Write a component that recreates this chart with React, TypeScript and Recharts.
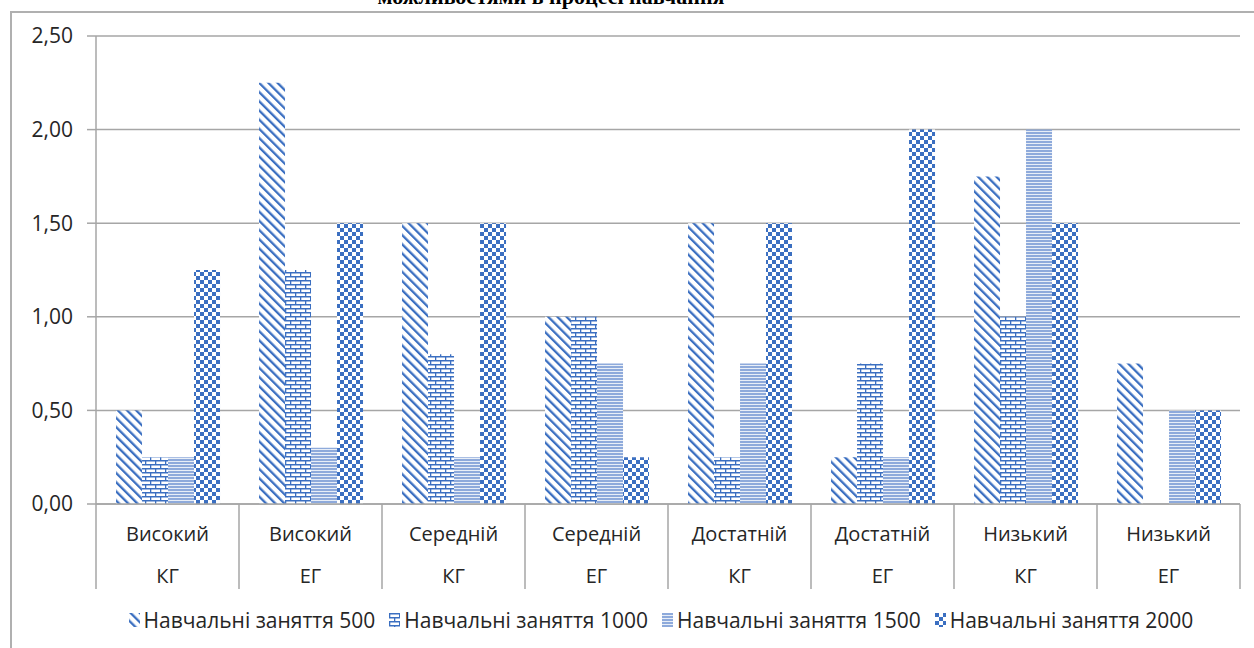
import { BarChart, Bar, XAxis, YAxis, CartesianGrid } from 'recharts';

const levels = ['Високий', 'Високий', 'Середній', 'Середній', 'Достатній', 'Достатній', 'Низький', 'Низький'];
const groups = ['КГ', 'ЕГ', 'КГ', 'ЕГ', 'КГ', 'ЕГ', 'КГ', 'ЕГ'];

const lessons500 = [0.5, 2.25, 1.5, 1.0, 1.5, 0.25, 1.75, 0.75];
const lessons1000 = [0.25, 1.25, 0.8, 1.0, 0.25, 0.75, 1.0, 0];
const lessons1500 = [0.25, 0.3, 0.25, 0.75, 0.75, 0.25, 2.0, 0.5];
const lessons2000 = [1.25, 1.5, 1.5, 0.25, 1.5, 2.0, 1.5, 0.5];

const seriesNames = [
  'Навчальні заняття 500',
  'Навчальні заняття 1000',
  'Навчальні заняття 1500',
  'Навчальні заняття 2000',
];
const yTicks = [0, 0.5, 1, 1.5, 2, 2.5];

const data = levels.map((level, i) => ({
  cat: `${level}|${groups[i]}`,
  s500: lessons500[i],
  s1000: lessons1000[i],
  s1500: lessons1500[i],
  s2000: lessons2000[i],
}));

const BLUE = '#3b6fc1';
const LIGHT = '#8eaadb';
const GRID = '#a6a6a6';
const TEXT = '#262626';
const FONT = '"Open Sans", sans-serif';

const series = [
  { key: 's500', fill: 'url(#pDiag)' },
  { key: 's1000', fill: 'url(#pBrick)' },
  { key: 's1500', fill: 'url(#pHoriz)' },
  { key: 's2000', fill: 'url(#pCheck)' },
];

function Patterns({ suffix = '' }: { suffix?: string }) {
  return (
    <defs>
      <pattern id={`pDiag${suffix}`} width="6.5" height="6.5" patternUnits="userSpaceOnUse" patternTransform="rotate(-45)">
        <rect width="6.5" height="6.5" fill="#fff" />
        <rect width="2.3" height="6.5" fill={BLUE} />
      </pattern>
      <pattern id={`pBrick${suffix}`} width="10" height="8" patternUnits="userSpaceOnUse">
        <rect width="10" height="8" fill="#fff" />
        <rect x="0" y="0" width="10" height="1.5" fill={BLUE} />
        <rect x="0" y="4" width="10" height="1.5" fill={BLUE} />
        <rect x="0" y="0" width="1.3" height="4" fill={BLUE} />
        <rect x="5" y="4" width="1.3" height="4" fill={BLUE} />
      </pattern>
      <pattern id={`pHoriz${suffix}`} width="4" height="3" patternUnits="userSpaceOnUse">
        <rect width="4" height="3" fill="#fff" />
        <rect width="4" height="2.2" fill={LIGHT} />
      </pattern>
      <pattern id={`pCheck${suffix}`} width="8" height="8" patternUnits="userSpaceOnUse">
        <rect width="8" height="8" fill="#fff" />
        <rect x="0" y="0" width="4" height="4" fill={BLUE} />
        <rect x="4" y="4" width="4" height="4" fill={BLUE} />
      </pattern>
    </defs>
  );
}

function CategoryTick(props: any) {
  const { x, y, payload, index } = props;
  const half = payload && typeof payload.offset === 'number' ? payload.offset : 71.5;
  const [level, group] = String(payload.value).split('|');
  return (
    <g>
      <line x1={x - half} y1={y} x2={x - half} y2={y + 85} stroke={GRID} strokeWidth={1.5} />
      {index === levels.length - 1 && (
        <line x1={x + half} y1={y} x2={x + half} y2={y + 85} stroke={GRID} strokeWidth={1.5} />
      )}
      <text x={x} y={y + 37} textAnchor="middle" fontSize={20} fontFamily={FONT} fill={TEXT}>
        {level}
      </text>
      <text x={x} y={y + 79} textAnchor="middle" fontSize={20} fontFamily={FONT} fill={TEXT}>
        {group}
      </text>
    </g>
  );
}

export default function App() {
  return (
    <div style={{ position: 'absolute', left: 0, top: 0, width: 1254, height: 648, overflow: 'hidden', background: '#fff' }}>
      <div
        style={{
          position: 'absolute',
          left: 0,
          width: 1102,
          top: -16,
          textAlign: 'center',
          fontFamily: '"Liberation Serif", serif',
          fontWeight: 'bold',
          fontSize: 22,
          lineHeight: '26px',
          color: '#000',
        }}
      >
        можливостями в процесі навчання
      </div>
      <div
        style={{
          position: 'absolute',
          left: 10,
          top: 11,
          width: 1260,
          height: 660,
          border: '2px solid #b0b0b0',
          boxSizing: 'border-box',
        }}
      />
      <div style={{ position: 'absolute', left: 0, top: 0 }}>
        <BarChart
          width={1254}
          height={648}
          data={data}
          margin={{ top: 36, right: 14, bottom: 54, left: 10 }}
          barCategoryGap="14%"
          barGap={0}
        >
          <Patterns />
          <CartesianGrid vertical={false} stroke={GRID} strokeWidth={1.5} />
          <XAxis
            dataKey="cat"
            interval={0}
            height={90}
            tickLine={false}
            tickSize={0}
            tickMargin={0}
            axisLine={{ stroke: GRID, strokeWidth: 1.5 }}
            tick={<CategoryTick />}
          />
          <YAxis
            domain={[0, 2.5]}
            ticks={yTicks}
            width={86}
            tickSize={9}
            tickMargin={14}
            tickLine={{ stroke: GRID, strokeWidth: 1.5 }}
            axisLine={{ stroke: GRID, strokeWidth: 1.5 }}
            tick={{ fontSize: 21, fontFamily: FONT, fill: TEXT }}
            tickFormatter={(v: number) => v.toFixed(2).replace('.', ',')}
          />
          {series.map((s, i) => (
            <Bar key={s.key} dataKey={s.key} name={seriesNames[i]} fill={s.fill} isAnimationActive={false} />
          ))}
        </BarChart>
      </div>
      <div
        style={{
          position: 'absolute',
          left: 68,
          width: 1186,
          top: 606,
          display: 'flex',
          justifyContent: 'center',
          alignItems: 'center',
          fontFamily: FONT,
          fontSize: 21,
          color: TEXT,
          whiteSpace: 'nowrap',
        }}
      >
        <svg width={0} height={0} style={{ position: 'absolute' }}>
          <Patterns suffix="L" />
        </svg>
        {series.map((s, i) => (
          <div key={s.key} style={{ display: 'flex', alignItems: 'center', marginRight: i < 3 ? 14 : 0 }}>
            <svg width={11} height={14} style={{ marginRight: 4 }}>
              <rect width={11} height={14} fill={s.fill.replace(')', 'L)')} />
            </svg>
            <span>{seriesNames[i]}</span>
          </div>
        ))}
      </div>
    </div>
  );
}
